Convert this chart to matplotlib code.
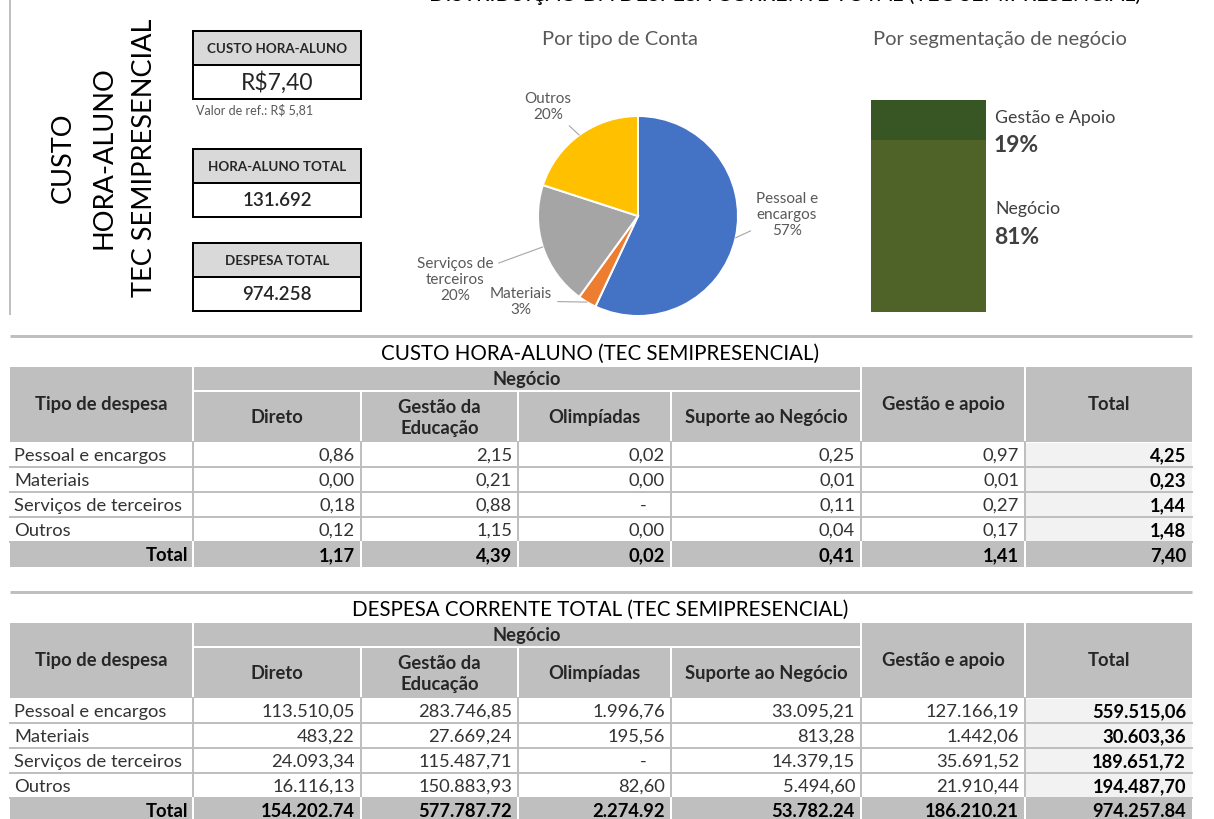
import matplotlib
matplotlib.use("Agg")
import matplotlib.pyplot as plt
from matplotlib.patches import Rectangle
import numpy as np

plt.rcParams['font.family'] = ['Lato', 'DejaVu Sans']

# ── Dados ────────────────────────────────────────────────────────────────────
tipos = ["Pessoal e encargos", "Materiais", "Serviços de terceiros", "Outros"]
colunas = ["Direto", "Gestão da\nEducação", "Olimpíadas", "Suporte ao Negócio",
           "Gestão e apoio", "Total"]

# custo hora-aluno (R$) por tipo x coluna (None = "-")
custo_ha = [
    [0.86, 2.15, 0.02, 0.25, 0.97],
    [0.00, 0.21, 0.00, 0.01, 0.01],
    [0.18, 0.88, None, 0.11, 0.27],
    [0.12, 1.15, 0.00, 0.04, 0.17],
]
custo_ha_total_linha = [4.25, 0.23, 1.44, 1.48]
custo_ha_total_col = [1.17, 4.39, 0.02, 0.41, 1.41, 7.40]

despesa = [
    [113510.05, 283746.85, 1996.76, 33095.21, 127166.19],
    [483.22, 27669.24, 195.56, 813.28, 1442.06],
    [24093.34, 115487.71, None, 14379.15, 35691.52],
    [16116.13, 150883.93, 82.60, 5494.60, 21910.44],
]
despesa_total_linha = [559515.06, 30603.36, 189651.72, 194487.70]
despesa_total_col = [154202.74, 577787.72, 2274.92, 53782.24, 186210.21, 974257.84]

# pizza: percentuais como aparecem no gráfico
pie_labels = ["Pessoal e\nencargos", "Materiais", "Serviços de\nterceiros", "Outros"]
pie_pct = [57, 3, 20, 20]
pie_colors = ["#4472C4", "#ED7D31", "#A5A5A5", "#FFC000"]

seg_labels = ["Negócio", "Gestão e Apoio"]
seg_pct = [81, 19]
seg_colors = ["#4F6228", "#375623"]

# ── Figura ───────────────────────────────────────────────────────────────────
W, H = 1214, 820
fig = plt.figure(figsize=(W / 100, H / 100), dpi=100)
ax = fig.add_axes([0, 0, 1, 1])
ax.set_xlim(0, W)
ax.set_ylim(H, 0)
ax.axis("off")

PX = 0.72  # 1 px em pontos
CINZA = "#bfbfbf"
TXT = "#333333"

# título cortado no topo
ax.text(785, 1, "DISTRIBUIÇÃO DA DESPESA CORRENTE TOTAL (TEC SEMIPRESENCIAL)",
        ha="center", va="baseline", fontsize=15.5, color="black")

# linha vertical esquerda e título vertical
ax.plot([10, 10], [0, 315], color=CINZA, lw=2 * PX)
for x, s in [(63, "CUSTO"), (104, "HORA-ALUNO"), (144, "TEC SEMIPRESENCIAL")]:
    ax.text(x, 158, s, rotation=90, ha="center", va="center", fontsize=19.5,
            color="black")

# caixas de indicadores
def caixa(y0, titulo, valor, vsize, vweight):
    ax.add_patch(Rectangle((193, y0), 168, 34, fc="#d9d9d9", ec="black", lw=2 * PX))
    ax.add_patch(Rectangle((193, y0 + 34), 168, 34, fc="white", ec="black", lw=2 * PX))
    ax.text(277, y0 + 17, titulo, ha="center", va="center", fontsize=9.6,
            fontweight="bold", color="#262626")
    ax.text(277, y0 + 51, valor, ha="center", va="center", fontsize=vsize,
            fontweight=vweight, color="#262626")

caixa(32, "CUSTO HORA-ALUNO", "R$7,40", 16.5, "normal")
ax.text(196, 110, "Valor de ref.: R$ 5,81", ha="left", va="center", fontsize=9,
        color="#595959")
caixa(150, "HORA-ALUNO TOTAL", "131.692", 13.5, "semibold")
caixa(244, "DESPESA TOTAL", "974.258", 13.5, "semibold")

# ── Pizza ────────────────────────────────────────────────────────────────────
ax.text(620, 40, "Por tipo de Conta", ha="center", va="center", fontsize=14.5,
        color="#595959")
cx, cy, r = 638, 217, 100
axp = fig.add_axes([(cx - r) / W, (H - cy - r) / H, 2 * r / W, 2 * r / H])
axp.pie(pie_pct, colors=pie_colors, startangle=90, counterclock=False,
        wedgeprops=dict(edgecolor="white", linewidth=2 * PX))
axp.set_xlim(-1, 1)
axp.set_ylim(-1, 1)
axp.axis("off")

pos_txt = [(1.49, 0.02), (-1.17, -0.85), (-1.83, -0.63), (-0.90, 1.10)]
ini = 90.0
tot_pie = sum(pie_pct)
for lab, p, (tx, ty) in zip(pie_labels, pie_pct, pos_txt):
    mid = np.deg2rad(ini - p / tot_pie * 360 / 2)
    ini -= p / tot_pie * 360
    axp.annotate(f"{lab}\n{p}%", xy=(np.cos(mid), np.sin(mid)),
                 xytext=(tx, ty), ha="center", va="center", fontsize=11,
                 color="#595959", annotation_clip=False,
                 arrowprops=dict(arrowstyle="-", color="#a6a6a6", lw=0.8,
                                 shrinkA=2, shrinkB=0))

# ── Barra empilhada ──────────────────────────────────────────────────────────
ax.text(1000, 40, "Por segmentação de negócio", ha="center", va="center",
        fontsize=14.5, color="#595959")
axb = fig.add_axes([871 / W, (H - 313) / H, 115 / W, 212 / H])
base = 0
for p, c in zip(seg_pct, seg_colors):
    axb.bar(0, p, bottom=base, width=1, color=c)
    base += p
axb.set_xlim(-0.5, 0.5)
axb.set_ylim(0, sum(seg_pct))
axb.axis("off")
pos_seg = [(0.49, 0.354), (0.92, 0.788)]
for lab, p, (yl, yp) in zip(seg_labels, seg_pct, pos_seg):
    axb.text(1.08, yl, lab, transform=axb.transAxes, ha="left", va="center",
             fontsize=12.8, color="#404040")
    axb.text(1.07, yp, f"{p}%", transform=axb.transAxes, ha="left",
             va="center", fontsize=16.5, fontweight="bold", color="#404040")

# ── Tabelas ──────────────────────────────────────────────────────────────────
COL_X = [10, 193, 361, 518, 671, 861, 1025, 1192]
FS = 13.2


def fmt_virgula(v):
    return f"{v:.2f}".replace(".", ",")


def fmt_br(v):
    return f"{v:,.2f}".replace(",", "X").replace(".", ",").replace("X", ".")


def fmt_ponto(v):
    return f"{v:,.2f}".replace(",", ".")


def tabela(top, titulo, dados, tot_linha, tot_col, fmt, fmt_tot):
    ax.plot([10, 1192], [top - 31, top - 31], color=CINZA, lw=3 * PX,
            solid_capstyle="butt")
    ax.text(600, top - 14, titulo, ha="center", va="center", fontsize=14.8,
            color="black")
    # cabeçalho
    ax.add_patch(Rectangle((10, top), 1182, 75, fc=CINZA, ec="none"))
    for x in (193, 861, 1025):
        ax.plot([x, x], [top, top + 75], color="white", lw=2 * PX)
    ax.plot([193, 861], [top + 24, top + 24], color="white", lw=2 * PX)
    for x in (361, 518, 671):
        ax.plot([x, x], [top + 24, top + 75], color="white", lw=2 * PX)
    ax.text(101, top + 37, "Tipo de despesa", ha="center", va="center", fontsize=FS,
            fontweight="bold", color="#262626")
    ax.text(527, top + 12, "Negócio", ha="center", va="center", fontsize=FS,
            fontweight="bold", color="#262626")
    for j, nome in enumerate(colunas):
        xc = (COL_X[j + 1] + COL_X[j + 2]) / 2
        yc = top + 50 if j < 4 else top + 37
        ax.text(xc, yc, nome, ha="center", va="center", fontsize=FS,
                fontweight="bold", color="#262626", linespacing=1.25)
    # linhas de dados
    y0 = top + 75
    for i, (tipo, linha) in enumerate(zip(tipos, dados)):
        y = y0 + i * 25
        ax.add_patch(Rectangle((1025, y + 1), 167, 24, fc="#f2f2f2", ec="none"))
        ax.text(14, y + 13, tipo, ha="left", va="center", fontsize=FS, color=TXT)
        for j, v in enumerate(linha):
            xr = COL_X[j + 2] - 6
            if v is None:
                ax.text(xr - 22, y + 13, "-", ha="center", va="center", fontsize=FS,
                        color=TXT)
            else:
                ax.text(xr, y + 13, fmt(v), ha="right", va="center", fontsize=FS,
                        color=TXT)
        ax.text(1186, y + 13, fmt(tot_linha[i]), ha="right", va="center", fontsize=FS,
                fontweight="bold", color="black")
        ax.plot([10, 1192], [y + 25, y + 25], color=CINZA, lw=2 * PX)
    for x in COL_X[1:-1]:
        ax.plot([x, x], [y0, y0 + 100], color=CINZA, lw=2 * PX)
    # linha total
    yt = y0 + 100
    ax.add_patch(Rectangle((10, yt), 1182, 25, fc=CINZA, ec="none"))
    for x in COL_X[1:-1]:
        ax.plot([x, x], [yt, yt + 25], color="white", lw=2 * PX)
    ax.text(188, yt + 13, "Total", ha="right", va="center", fontsize=FS,
            fontweight="bold", color="black")
    for j, v in enumerate(tot_col):
        ax.text(COL_X[j + 2] - 6, yt + 13, fmt_tot(v), ha="right", va="center",
                fontsize=FS, fontweight="bold", color="black")


tabela(368, "CUSTO HORA-ALUNO (TEC SEMIPRESENCIAL)", custo_ha,
       custo_ha_total_linha, custo_ha_total_col, fmt_virgula, fmt_virgula)
tabela(624, "DESPESA CORRENTE TOTAL (TEC SEMIPRESENCIAL)", despesa,
       despesa_total_linha, despesa_total_col, fmt_br, fmt_ponto)

fig.savefig("out.png", dpi=100)
